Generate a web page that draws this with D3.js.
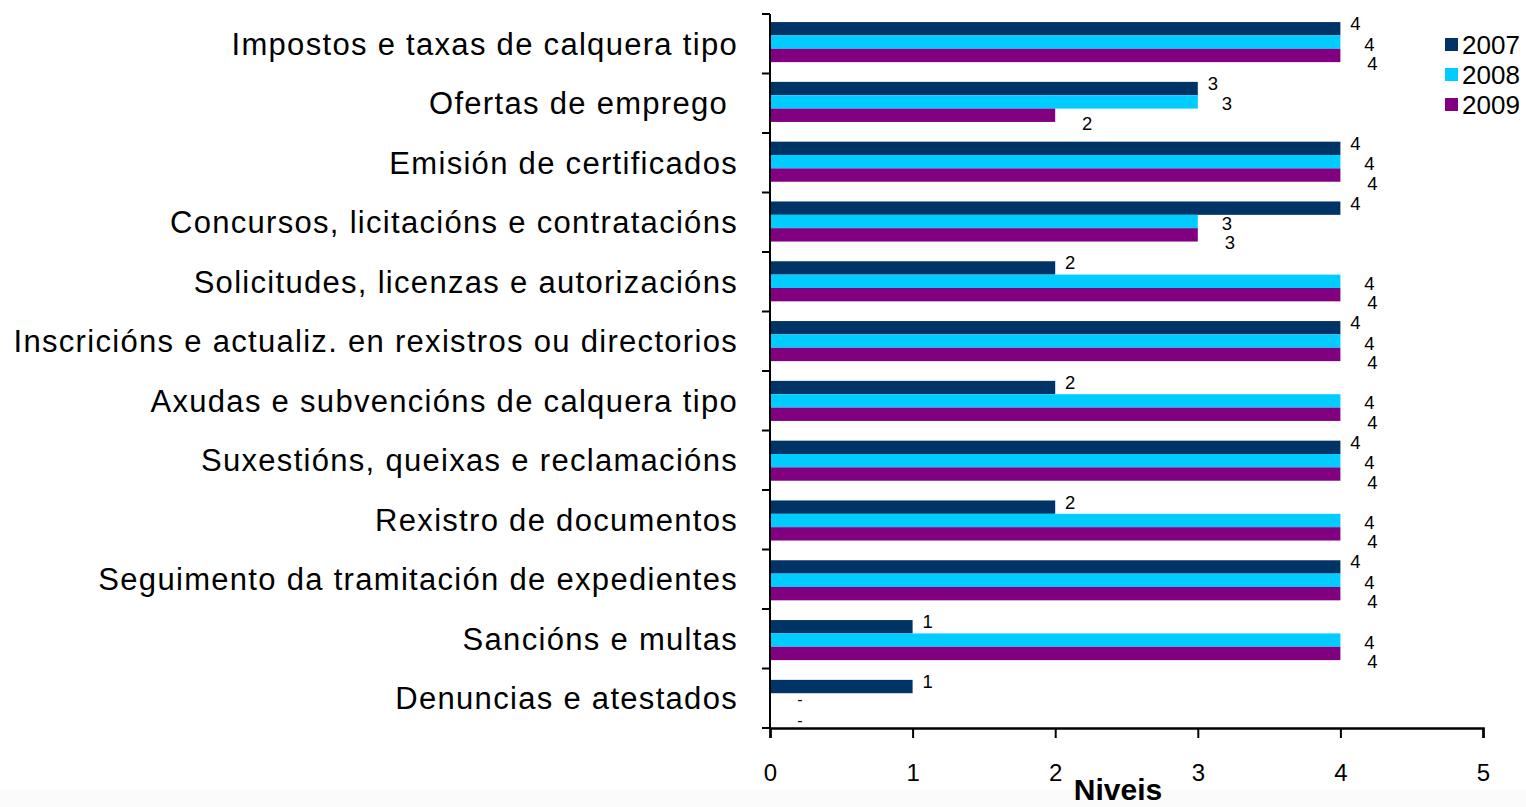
<!DOCTYPE html>
<html><head><meta charset="utf-8">
<script src="https://cdn.jsdelivr.net/npm/d3@7"></script>
<style>body{margin:0;background:#fff}svg{display:block}text{font-family:"Liberation Sans",Arial,sans-serif;white-space:pre}</style>
</head><body><svg id="c" width="1526" height="807"></svg>
<script>
const categories = [
  "Impostos e taxas de calquera tipo",
  "Ofertas de emprego ",
  "Emisión de certificados",
  "Concursos, licitacións e contratacións",
  "Solicitudes, licenzas e autorizacións",
  "Inscricións e actualiz. en rexistros ou directorios",
  "Axudas e subvencións de calquera tipo",
  "Suxestións, queixas e reclamacións",
  "Rexistro de documentos",
  "Seguimento da tramitación de expedientes",
  "Sancións e multas",
  "Denuncias e atestados"
];
const seriesNames = ["2007", "2008", "2009"];
const v2007 = [4, 3, 4, 4, 2, 4, 2, 4, 2, 4, 1, 1];
const v2008 = [4, 3, 4, 3, 4, 4, 4, 4, 4, 4, 4, null];
const v2009 = [4, 2, 4, 3, 4, 4, 4, 4, 4, 4, 4, null];
const xTicks = [0, 1, 2, 3, 4, 5];
const colors = ["#003366", "#00CCFF", "#800080"];
const axisTitle = "Niveis";

const series = [v2007, v2008, v2009];
const svg = d3.select("#c");
const x = d3.scaleLinear().domain([0, 5]).range([770, 1483]);
const y = d3.scaleBand().domain(categories).range([14, 728]).paddingInner(0.33).paddingOuter(0.135);
const yb = d3.scaleBand().domain(categories).range([14, 728]);
const ys = d3.scaleBand().domain(seriesNames).range([0, y.bandwidth()]);

// faint bottom band
svg.append("rect").attr("x",0).attr("y",789).attr("width",1526).attr("height",18).attr("fill","#fbfbfb");

// bars
seriesNames.forEach((s, si) => {
  svg.append("g").selectAll("rect")
    .data(categories.map((c, i) => ({c, v: series[si][i]})))
    .join("rect")
    .attr("x", x(0))
    .attr("y", d => y(d.c) + ys(s))
    .attr("width", d => d.v == null ? 0 : x(d.v) - x(0))
    .attr("height", ys.bandwidth())
    .attr("fill", colors[si]);
});

// data labels
const ldx = [15, 29, 32], ldy = [-5, 2, 8], ndy = [0, 0, 7];
seriesNames.forEach((s, si) => {
  svg.append("g").selectAll("text")
    .data(categories.map((c, i) => ({c, v: series[si][i]})))
    .join("text")
    .attr("x", d => d.v == null ? x(0) + 30 : x(d.v) + ldx[si])
    .attr("y", d => y(d.c) + ys(s) + ys.bandwidth() / 2 + (d.v == null ? ndy[si] : ldy[si]))
    .attr("dy", "0.35em")
    .attr("text-anchor", "middle")
    .attr("font-size", d => d.v == null ? 16 : 18.5)
    .attr("fill", "#000")
    .text(d => d.v == null ? "-" : d.v);
});

// y axis
const gy = svg.append("g");
gy.append("line").attr("x1",770).attr("x2",770).attr("y1",14).attr("y2",728).attr("stroke","#000").attr("stroke-width",2);
gy.selectAll("line.t").data(categories.concat(["__end"])).join("line").attr("class","t")
  .attr("x1",762).attr("x2",770)
  .attr("y1", (d,i) => i < categories.length ? yb(d) : 728)
  .attr("y2", (d,i) => i < categories.length ? yb(d) : 728)
  .attr("stroke","#000").attr("stroke-width",2);
gy.selectAll("text").data(categories).join("text")
  .attr("x", 738).attr("y", d => yb(d) + yb.bandwidth()/2).attr("dy","0.35em")
  .attr("text-anchor","end").attr("font-size", 31).attr("letter-spacing", 1.3)
  .attr("fill","#000").text(d => d);

// x axis
const gx = svg.append("g").attr("transform","translate(0,728)")
  .call(d3.axisBottom(x).tickValues(xTicks).tickFormat(d3.format("d")).tickSize(10).tickPadding(26));
gx.select(".domain").attr("stroke","#000").attr("stroke-width",2.5);
gx.selectAll(".tick line").attr("stroke","#000").attr("stroke-width",2);
gx.selectAll(".tick text").attr("font-size",24).attr("fill","#000").attr("font-family","Liberation Sans, Arial, sans-serif");

svg.append("text").attr("x",1118).attr("y",800).attr("text-anchor","middle")
  .attr("font-size",30).attr("font-weight","bold").attr("fill","#000").text(axisTitle);

// legend
const lg = svg.append("g");
seriesNames.forEach((s, i) => {
  lg.append("rect").attr("x",1445).attr("y",38 + i*30).attr("width",13).attr("height",13).attr("fill",colors[i]);
  lg.append("text").attr("x",1462).attr("y",45 + i*30).attr("dy","0.35em").attr("font-size",26).attr("fill","#000").text(s);
});
</script></body></html>
